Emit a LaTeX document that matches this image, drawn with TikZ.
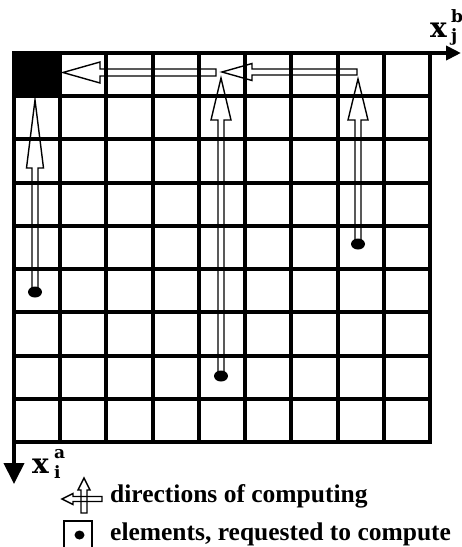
\documentclass[tikz,border=0pt]{standalone}
\usepackage{fontspec}
\newfontfamily\legendfont{Liberation Serif}
\newfontfamily\axfont{DejaVu Serif}
\usetikzlibrary{calc,arrows.meta,shapes.geometric}
\begin{document}
\begin{tikzpicture}[x=1pt,y=1pt,
  gridline/.style={line width=4pt},
  axisline/.style={line width=4pt},
  hollow/.style={line width=1.4pt, line join=miter},
  dotmark/.style={ellipse, fill=black, draw=none, inner sep=0pt, minimum width=14pt, minimum height=11pt},
  legtext/.style={anchor=base west, inner sep=0pt, font=\legendfont\bfseries\fontsize{25.5}{30}\selectfont},
  axlabel/.style={anchor=base west, inner sep=0pt, font=\axfont\bfseries\fontsize{28}{28}\selectfont},
  axscript/.style={anchor=base west, inner sep=0pt, font=\axfont\bfseries\fontsize{17}{17}\selectfont}]
\useasboundingbox (0,0) rectangle (462,-547);
% black cell
\fill (14,-53) rectangle (60.22,-96.22);
% grid
\draw[gridline] (14,-53) rectangle (430,-442);
\foreach \k in {1,...,8} {
  \draw[gridline] ({14+\k*46.22},-53) -- ({14+\k*46.22},-442);
  \draw[gridline] (14,{-53-\k*43.22}) -- (430,{-53-\k*43.22});
}
% axes
\coordinate (O) at (14,-53);
\coordinate (xend) at (461,-53);
\coordinate (yend) at (14,-484);
\draw[axisline, -{Triangle[length=15pt,width=14pt]}] (O) -- (xend);
\draw[axisline, -{Triangle[length=21pt,width=20pt]}] (O) -- (yend);
\node[axlabel] (xj) at (430,-37) {x};
\node[axscript] (xjb) at (451,-22) {b};
\node[axscript] (xjj) at (451,-41) {j};
\node[axlabel] (xi) at (32,-473) {x};
\node[axscript] (xia) at (54,-458) {a};
\node[axscript] (xii) at (54,-478) {i};
% horizontal arrows
\coordinate (h1s) at (357,-72);
\coordinate (h1t) at (222,-72);
\draw[hollow] ($(h1s)+(0,3)$) -- ($(h1t)+(30,3)$) -- ($(h1t)+(30,8.5)$) -- (h1t) -- ($(h1t)+(30,-8.5)$) -- ($(h1t)+(30,-3)$) -- ($(h1s)+(0,-3)$) -- cycle;
\coordinate (h2s) at (216,-72.5);
\coordinate (h2t) at (63,-72.5);
\draw[hollow] ($(h2s)+(0,3.5)$) -- ($(h2t)+(37,3.5)$) -- ($(h2t)+(37,10.5)$) -- (h2t) -- ($(h2t)+(37,-10.5)$) -- ($(h2t)+(37,-3.5)$) -- ($(h2s)+(0,-3.5)$) -- cycle;
% vertical arrows
\coordinate (v1t) at (35,-100);
\coordinate (v5t) at (221,-78);
\coordinate (v8t) at (358,-79);
\coordinate (d1c) at (35,-292);
\coordinate (d5c) at (221,-376);
\coordinate (d8c) at (358,-244);
\draw[hollow] ($(d1c)+(-3,0)$) -- ($(v1t)+(-3,-68)$) -- ($(v1t)+(-8.5,-68)$) -- (v1t) -- ($(v1t)+(8.5,-68)$) -- ($(v1t)+(3,-68)$) -- ($(d1c)+(3,0)$);
\draw[hollow] ($(d5c)+(-3,0)$) -- ($(v5t)+(-3,-42)$) -- ($(v5t)+(-10,-42)$) -- (v5t) -- ($(v5t)+(10,-42)$) -- ($(v5t)+(3,-42)$) -- ($(d5c)+(3,0)$);
\draw[hollow] ($(d8c)+(-3,0)$) -- ($(v8t)+(-3,-41)$) -- ($(v8t)+(-10,-41)$) -- (v8t) -- ($(v8t)+(10,-41)$) -- ($(v8t)+(3,-41)$) -- ($(d8c)+(3,0)$);
\node[dotmark] (d1) at (d1c) {};
\node[dotmark] (d5) at (d5c) {};
\node[dotmark] (d8) at (d8c) {};
% legend icon: directions
\coordinate (ls) at (102,-499);
\coordinate (lt) at (62,-499);
\draw[hollow] ($(ls)+(0,2.5)$) -- ($(lt)+(11,2.5)$) -- ($(lt)+(11,5.5)$) -- (lt) -- ($(lt)+(11,-5.5)$) -- ($(lt)+(11,-2.5)$) -- ($(ls)+(0,-2.5)$) -- cycle;
\coordinate (us) at (84,-513);
\coordinate (ut) at (84,-478);
\draw[hollow] ($(us)+(-3,0)$) -- ($(ut)+(-3,-12)$) -- ($(ut)+(-6,-12)$) -- (ut) -- ($(ut)+(6,-12)$) -- ($(ut)+(3,-12)$) -- ($(us)+(3,0)$) -- cycle;
\node[legtext] (t1) at (110,-502) {directions of computing};
% legend icon: elements
\node[draw, line width=2pt, inner sep=0pt, minimum width=28pt, minimum height=32pt] (sq) at (78,-537) {};
\node[dotmark, minimum width=10pt, minimum height=9pt] (sqd) at (79.5,-535) {};
\node[legtext] (t2) at (110,-540) {elements, requested to compute};
\end{tikzpicture}
\end{document}
